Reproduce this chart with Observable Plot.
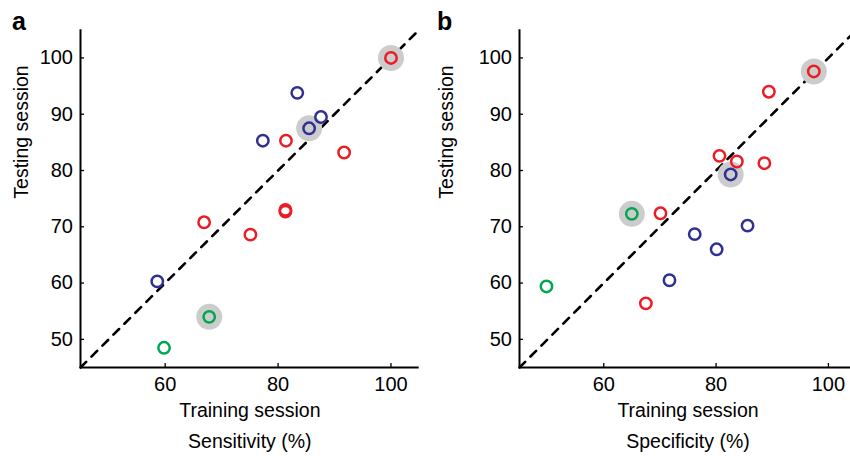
<!DOCTYPE html>
<html>
<head>
<meta charset="utf-8">
<script src="https://cdn.jsdelivr.net/npm/d3@7"></script>
<script src="https://cdn.jsdelivr.net/npm/@observablehq/plot@0.6"></script>
<style>
  html, body { margin: 0; padding: 0; background: #fff; }
  #wrap { width: 850px; height: 456px; overflow: hidden; display: flex; position: relative; }
  #wrap svg { flex: none; display: block; }
</style>
</head>
<body>
<div id="wrap"></div>
<script>
// ---- Data ----
const groups = ["group1", "group2", "group3"];
const groupColors = ["#ec1c24", "#2e3192", "#00a651"];

// Panel a: Sensitivity (%)
const sensTraining = [100, 83.4, 87.6, 85.5, 77.3, 81.4, 91.7, 81.3, 81.3, 66.9, 75.1, 58.6, 67.8, 59.8];
const sensTesting  = [100, 93.8, 89.5, 87.5, 85.3, 85.3, 83.2, 72.7, 73.0, 70.8, 68.6, 60.3, 54.0, 48.5];
const sensGroup    = ["group1", "group2", "group2", "group2", "group2", "group1", "group1", "group1", "group1", "group1", "group1", "group2", "group3", "group3"];
const sensHighlighted = [true, false, false, true, false, false, false, false, false, false, false, false, true, false];

// Panel b: Specificity (%)
const specTraining = [97.4, 89.4, 80.6, 83.7, 88.6, 82.6, 65.0, 70.1, 85.6, 76.2, 80.1, 71.7, 67.5, 49.8];
const specTesting  = [97.6, 94.0, 82.6, 81.6, 81.3, 79.3, 72.3, 72.4, 70.2, 68.7, 66.0, 60.5, 56.4, 59.4];
const specGroup    = ["group1", "group1", "group1", "group1", "group1", "group2", "group3", "group1", "group2", "group2", "group2", "group2", "group1", "group3"];
const specHighlighted = [true, false, false, false, false, true, true, false, false, false, false, false, false, false];

const axisTicks = [50, 60, 70, 80, 90, 100];
const xTicks = [60, 80, 100];
const identity = [45, 105];

const panelLetters = ["a", "b"];
const xTitles = ["Sensitivity (%)", "Specificity (%)"];
const xLabel = "Training session";
const yLabel = "Testing session";

function rows(xs, ys, gs, hs) {
  return xs.map((x, i) => ({x, y: ys[i], group: gs[i], hi: hs[i]}));
}

function panel({data, letter, title, width, marginLeft, marginRight}) {
  const font = "Liberation Sans, Arial, Helvetica, sans-serif";
  return Plot.plot({
    width,
    height: 456,
    marginLeft,
    marginRight,
    marginTop: 29.3,
    marginBottom: 89,
    style: {fontFamily: font, fontSize: "19.5px", color: "#000", background: "transparent", overflow: "visible"},
    x: {domain: [45, 105]},
    y: {domain: [45, 105]},
    color: {type: "ordinal", domain: groups, range: groupColors},
    marks: [
      // identity line
      Plot.line(identity.map(v => ({v})), {x: "v", y: "v", stroke: "#000", strokeWidth: 2.6, strokeDasharray: "8,7.5"}),
      // highlight halos
      Plot.dot(data.filter(d => d.hi), {x: "x", y: "y", r: 13, fill: "#cccccc", stroke: null}),
      // data circles
      Plot.dot(data, {x: "x", y: "y", r: 5.7, stroke: "group", strokeWidth: 2.5, fill: "none"}),
      // axis lines
      Plot.ruleX([45], {stroke: "#000", strokeWidth: 2}),
      Plot.ruleY([45], {stroke: "#000", strokeWidth: 2}),
      // tick labels
      Plot.axisY(axisTicks, {tickSize: 0, tickPadding: 7.5, fontSize: 20, label: null}),
      Plot.axisX(xTicks, {tickSize: 0, tickPadding: 9, fontSize: 20, label: null}),
      // inward tick marks
      Plot.axisY(axisTicks, {tickSize: 4, text: null, dx: 4, strokeWidth: 1.3, label: null}),
      Plot.axisX(xTicks, {tickSize: 4, text: null, dy: -4, strokeWidth: 1.3, label: null}),
      // axis titles
      Plot.text([xLabel], {frameAnchor: "bottom", lineAnchor: "top", dy: 36, fontSize: 19.5}),
      Plot.text([title], {frameAnchor: "bottom", lineAnchor: "top", dy: 66.5, fontSize: 19.5}),
      Plot.text([yLabel], {frameAnchor: "left", rotate: -90, lineAnchor: "bottom", dx: -(marginLeft - 27), fontSize: 19.5}),
      // panel letter
      Plot.text([letter], {frameAnchor: "top-left", textAnchor: "start", lineAnchor: "bottom", dx: -(marginLeft - 11.5), dy: 0, fontSize: 25, fontWeight: "bold"})
    ]
  });
}

const wrap = document.getElementById("wrap");
wrap.append(panel({
  data: rows(sensTraining, sensTesting, sensGroup, sensHighlighted),
  letter: panelLetters[0], title: xTitles[0], width: 425, marginLeft: 80, marginRight: 6.3
}));
wrap.append(panel({
  data: rows(specTraining, specTesting, specGroup, specHighlighted),
  letter: panelLetters[1], title: xTitles[1], width: 431, marginLeft: 94, marginRight: 0
}));
</script>
</body>
</html>
